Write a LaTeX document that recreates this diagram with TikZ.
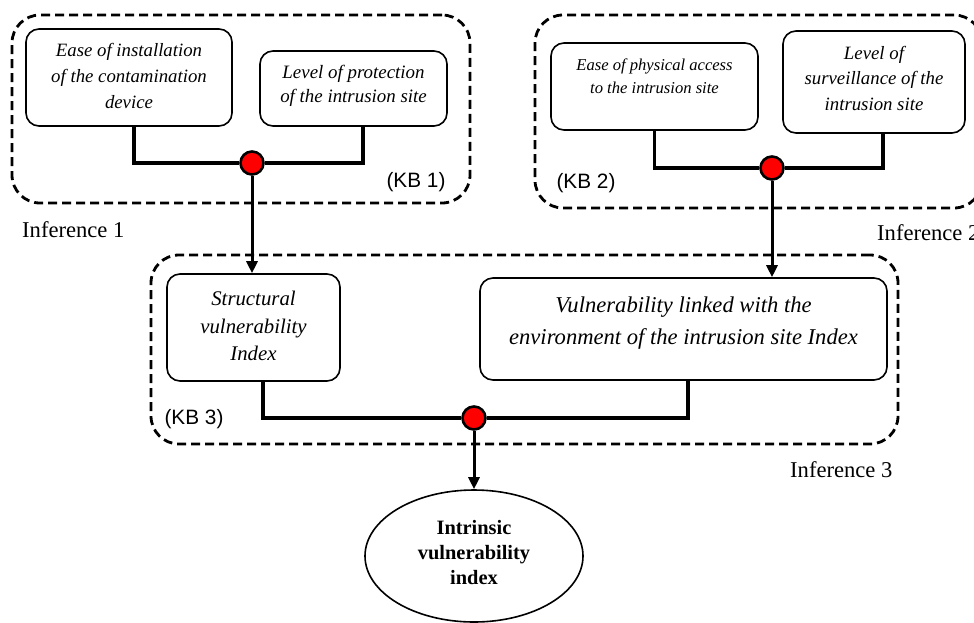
\documentclass[tikz,border=0pt]{standalone}
\usepackage{fontspec}
\setmainfont{Liberation Serif}
\newfontfamily\arialf{Liberation Sans}
\usetikzlibrary{arrows.meta,shapes.geometric}
\tikzset{
  kbbox/.style={draw, line width=2.8pt, dash pattern=on 9pt off 5pt, rounded corners=28pt, inner sep=0pt},
  fbox/.style={draw, line width=1.6pt, rounded corners=13pt, inner sep=0pt, align=center},
  conn/.style={line width=3.4pt},
  arr/.style={line width=3pt, -{Triangle[length=12pt,width=11pt]}},
  dot/.style={circle, draw, fill=red, line width=2.6pt, minimum size=23pt, inner sep=0pt},
  kblab/.style={font=\arialf\fontsize{20.8}{24}\selectfont, inner sep=0pt},
  inflab/.style={font=\fontsize{22.6}{26}\selectfont, inner sep=0pt, anchor=base west},
  txt/.style={inner sep=0pt, align=center}
}
\begin{document}
\begin{tikzpicture}[x=1pt,y=-1pt]
\useasboundingbox (0,0) rectangle (974,622);
% knowledge-base groups
\node[kbbox, minimum width=458pt, minimum height=188pt] (kb1) at (241,109) {};
\node[kbbox, minimum width=447pt, minimum height=193pt] (kb2) at (758.5,111.5) {};
\node[kbbox, minimum width=747pt, minimum height=189pt] (kb3) at (524.5,349.5) {};
% factor boxes
\node[fbox, minimum width=206pt, minimum height=97pt] (A) at (129,77.5) {};
\node[txt, font=\itshape\fontsize{18.8}{26}\selectfont] (At) at (129,76) {Ease of installation\\of the contamination\\device};
\node[fbox, minimum width=187pt, minimum height=75pt] (B) at (353.5,88.5) {};
\node[txt, font=\itshape\fontsize{18.9}{24}\selectfont] (Bt) at (353.5,86) {Level of protection\\of the intrusion site};
\node[fbox, minimum width=207pt, minimum height=87pt] (C) at (654.5,86.5) {};
\node[txt, font=\itshape\fontsize{16.6}{22.5}\selectfont] (Ct) at (654.5,76) {Ease of physical access\\to the intrusion site};
\node[fbox, minimum width=182pt, minimum height=102pt] (D) at (874,82) {};
\node[txt, font=\itshape\fontsize{18.8}{25.5}\selectfont] (Dt) at (874,78) {Level of\\surveillance of the\\intrusion site};
\node[fbox, minimum width=173pt, minimum height=107pt] (S) at (253.5,327.5) {};
\node[txt, font=\itshape\fontsize{20.8}{27.5}\selectfont] (St) at (253.5,326) {Structural\\vulnerability\\Index};
\node[fbox, minimum width=407pt, minimum height=102pt] (V) at (683.5,329) {};
\node[txt, font=\itshape\fontsize{22.6}{32}\selectfont] (Vt) at (683.5,323) {Vulnerability linked with the\\environment of the intrusion site Index};
% result
\node[ellipse, draw, line width=1.6pt, minimum width=218pt, minimum height=132pt, inner sep=0pt] (E) at (474,556) {};
\node[txt, font=\bfseries\fontsize{20.4}{25}\selectfont] (Et) at (474,553) {Intrinsic\\vulnerability\\index};
% junction dots
\node[dot] (c1) at (252,163) {};
\node[dot] (c2) at (772,168) {};
\node[dot] (c3) at (474,418) {};
% connectors
\draw[conn] ([xshift=5pt]A.south) |- (c1.west);
\draw[conn] ([xshift=9.5pt]B.south) |- (c1.east);
\draw[conn] (C.south) |- (c2.west);
\draw[conn] ([xshift=9pt]D.south) |- (c2.east);
\draw[conn] ([xshift=9.5pt]S.south) |- (c3.west);
\draw[conn] ([xshift=4.5pt]V.south) |- (c3.east);
\draw[arr] (c1.south) -- (c1 |- S.north);
\draw[arr] (c2.south) -- (c2 |- V.north);
\draw[arr] (c3.south) -- (c3 |- E.north);
% labels
\node[kblab] (k1) at (416,182) {(KB 1)};
\node[kblab] (k2) at (586,183) {(KB 2)};
\node[kblab] (k3) at (194,419) {(KB 3)};
\node[inflab] (i1) at (22,237) {Inference 1};
\node[inflab] (i2) at (877,240) {Inference 2};
\node[inflab] (i3) at (790,477) {Inference 3};
\end{tikzpicture}
\end{document}
